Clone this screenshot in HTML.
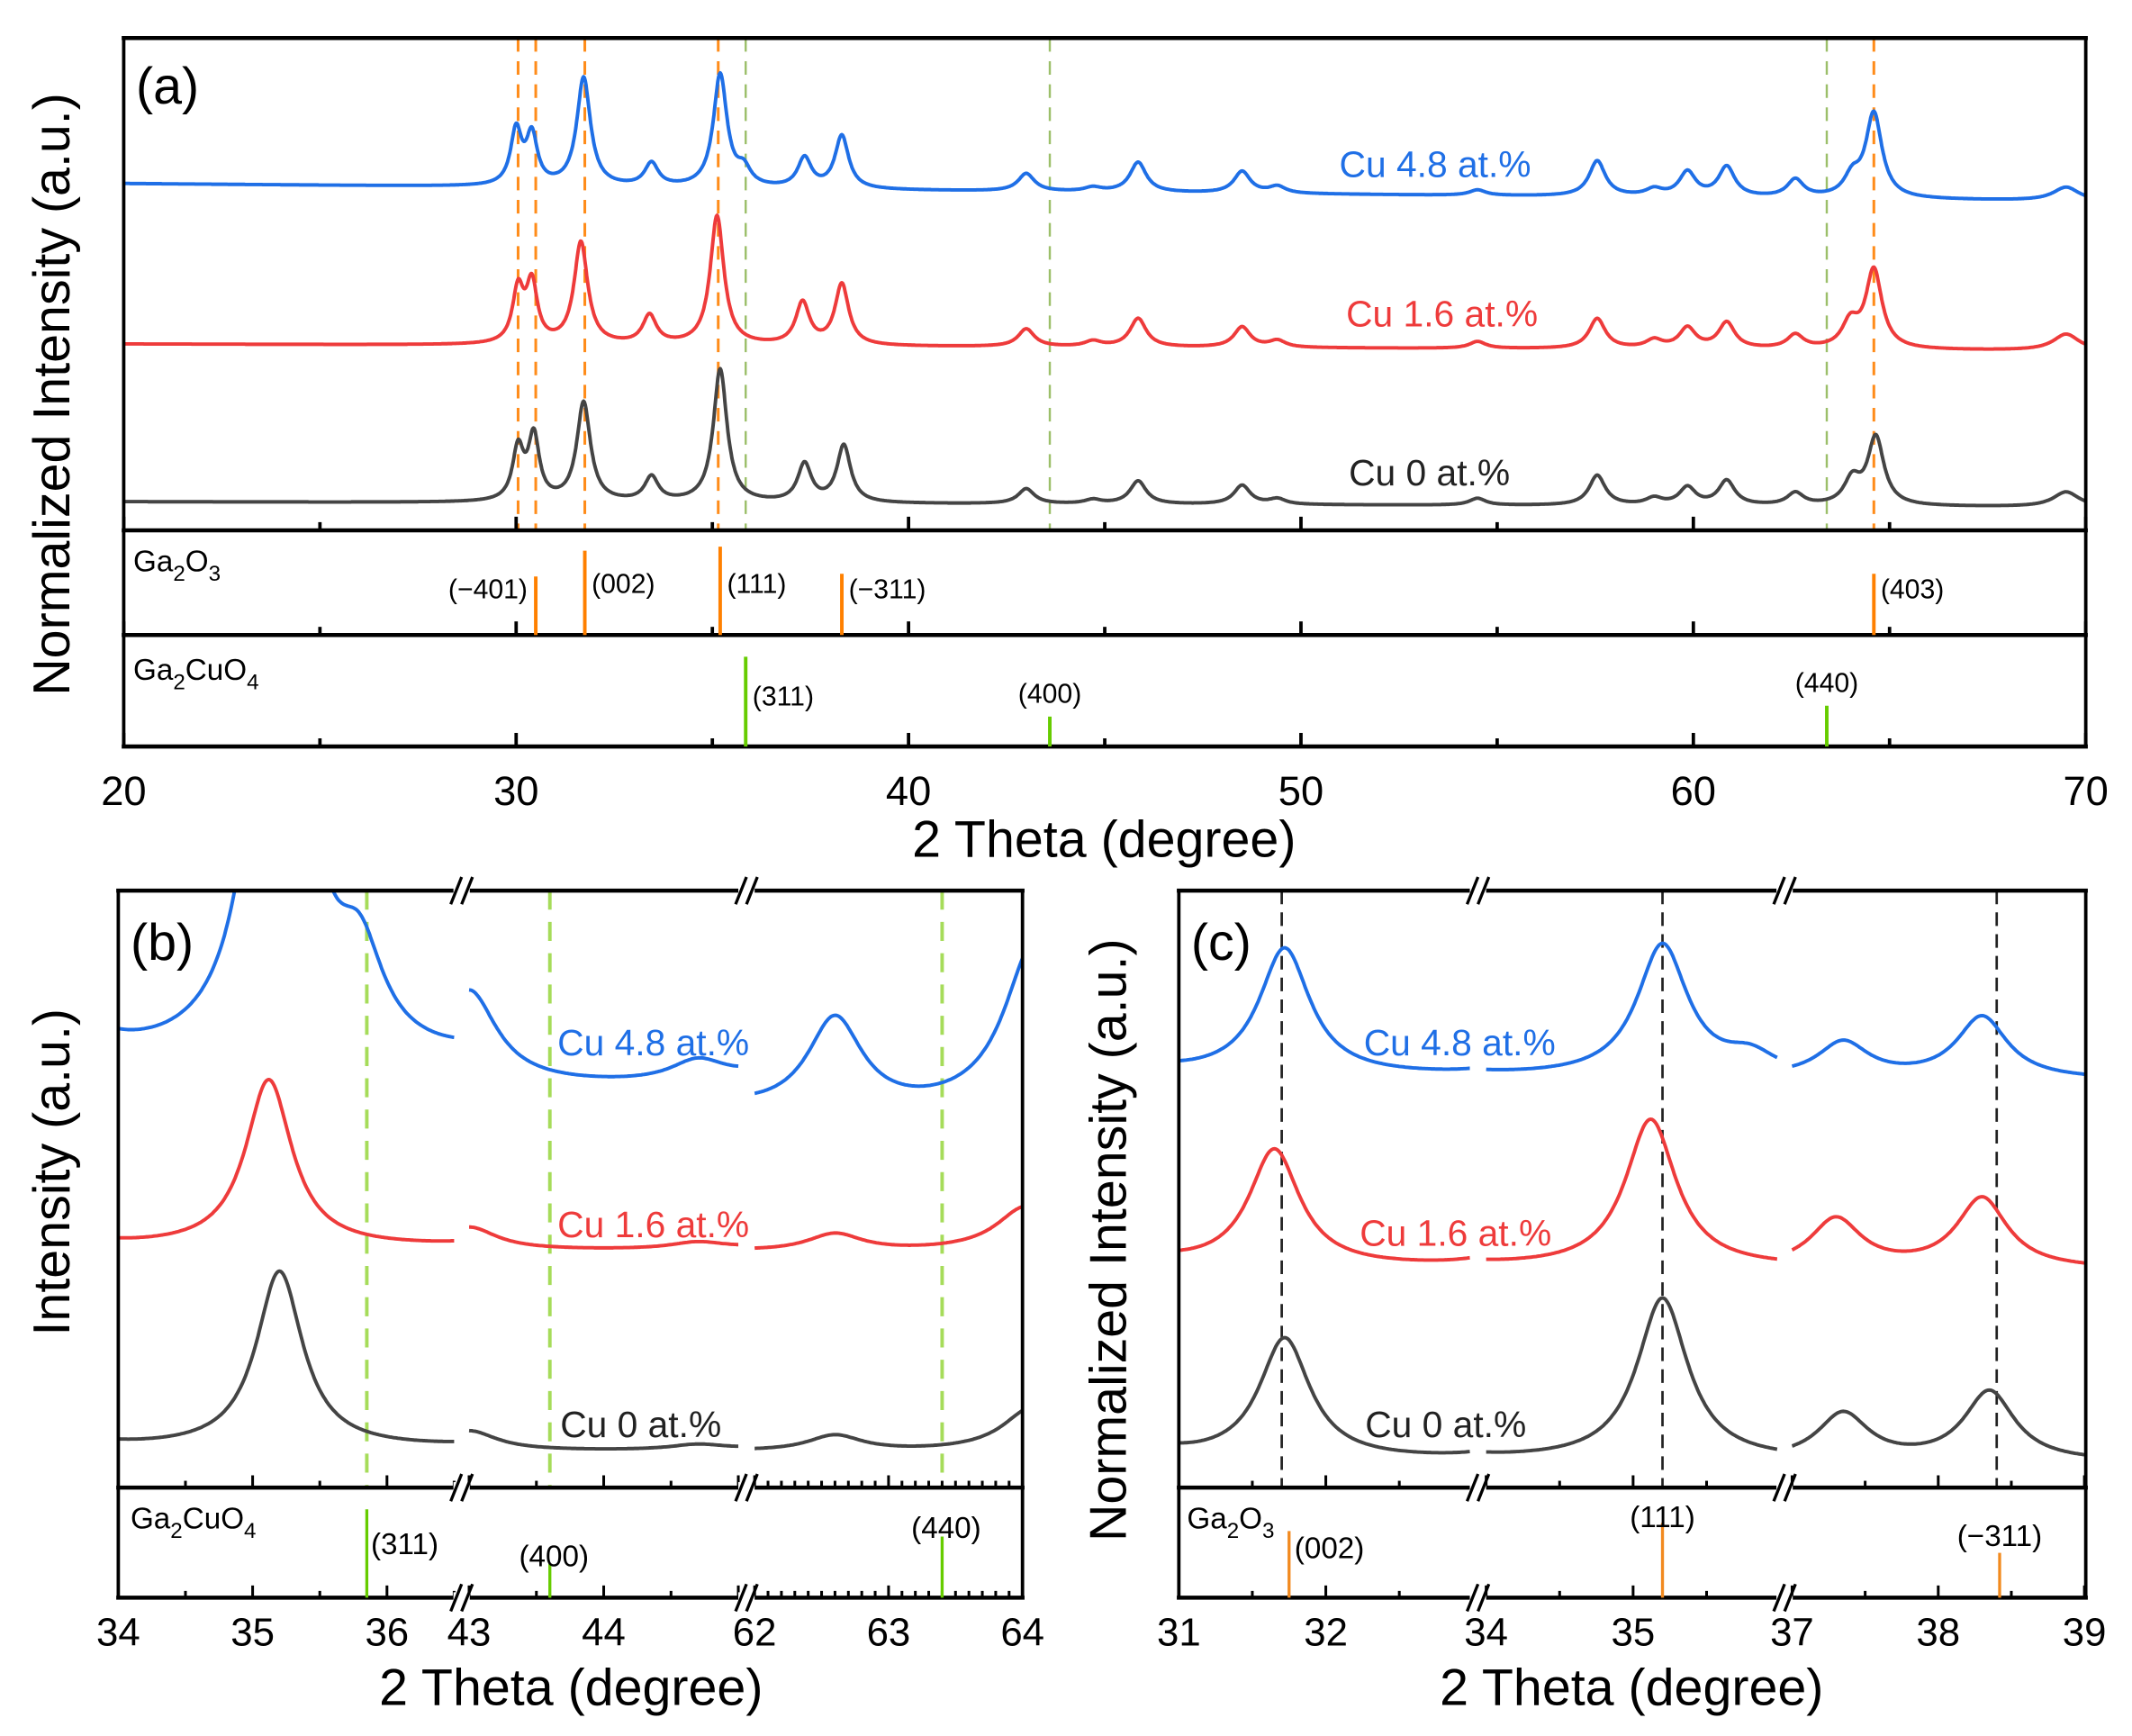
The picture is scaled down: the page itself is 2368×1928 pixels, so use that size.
<!DOCTYPE html>
<html><head><meta charset="utf-8"><style>
html,body{margin:0;padding:0;background:#fff}
svg{display:block}
text{font-family:"Liberation Sans",Arial,sans-serif}
</style></head><body>
<svg id="fig" width="2368" height="1928" viewBox="0 0 1568 1276.7" preserveAspectRatio="none" xmlns="http://www.w3.org/2000/svg">
<defs>
<clipPath id="clipA"><rect x="91" y="28" width="1443" height="362"/></clipPath>
<clipPath id="clipB"><rect x="87" y="655" width="665" height="439"/></clipPath>
<clipPath id="clipC"><rect x="867" y="655" width="667" height="439"/></clipPath>
</defs>
<g id="root"></g>
</svg>
<script>
// ===== data =====
// peak positions (2θ), heights (a.u.), half widths for each sample
const blackPos=[30.05,30.45,31.72,33.45,35.2,37.35,38.35,43.0,44.7,45.85,48.5,49.4,54.5,57.55,59.0,59.85,60.85,62.6,64.05,64.65,69.5];
const blackHt =[38,47,73,18,98,28,42,11,3,17,14,4,5,22,5,13,18,9,18,50,11];
const redPos  =[30.05,30.4,31.65,33.4,35.12,37.3,38.3,43.0,44.7,45.85,48.5,49.4,54.5,57.55,59.0,59.85,60.85,62.6,64.0,64.6,69.5];
const redHt   =[39,43,75,21,95,31,45,13,4,21,15,5,5,22,6,15,19,10,18,58,12];
const bluePos =[30.0,30.4,31.72,33.45,35.2,35.8,37.35,38.3,43.0,44.7,45.85,48.5,49.4,54.5,57.55,59.0,59.85,60.85,62.6,64.05,64.6,69.5];
const blueHt  =[40,36,80,17,83,12,22,39,13,3,22,16,5,4,26,5,18,22,13,14,62,10];
const peakWidthDefault=0.21;
// background drift per degree
const driftBlack=0.08, driftRed=0.1, driftBlue=0.26;
// reference patterns
const ga2o3Pos=[30.5,31.75,35.2,38.3,64.6];
const ga2o3Ht =[43,62,65,45,45];
const ga2o3Lbl=["(\u2212401)","(002)","(111)","(\u2212311)","(403)"];
const cuPos=[35.85,43.6,63.4];
const cuHt =[66,22,30];
const cuLbl=["(311)","(400)","(440)"];
const xTicksA=[20,30,40,50,60,70];

// ===== helpers =====
const NS="http://www.w3.org/2000/svg";
const root=document.getElementById('root');
function mk(tag,attrs,parent){const e=document.createElementNS(NS,tag);for(const k in attrs)e.setAttribute(k,attrs[k]);(parent||root).appendChild(e);return e;}
function txt(s,x,y,size,fill,anchor,parent){const t=mk('text',{x:x,y:y,'font-size':size,fill:fill||'#000','text-anchor':anchor||'start'},parent);t.textContent=s;return t;}
function wOf(pos){return (pos>42)?0.25:(pos<30.6?0.17:peakWidthDefault);}
function intensity(pos,ht,drift,x){let s=-drift*(x-20);for(let i=0;i<pos.length;i++){const w=(pos[i]>69)?0.4:wOf(pos[i]);const d=(x-pos[i])/w;s+=ht[i]/(1+d*d);}return s;}
const series=[
 {name:'blue',pos:bluePos,ht:blueHt,drift:driftBlue,color:'#1f6fe6'},
 {name:'red',pos:redPos,ht:redHt,drift:driftRed,color:'#ee3b3b'},
 {name:'black',pos:blackPos,ht:blackHt,drift:driftBlack,color:'#444444'}];

// ===== panel a =====
const ax=x=>91+(x-20)*(1534-91)/50;
const yBaseA={blue:135,red:253,black:369};
const gA=mk('g',{'clip-path':'url(#clipA)'});


[30.05,30.5,31.75,35.15,64.6].forEach(p=>{const l=mk('line',{x1:ax(p),x2:ax(p),y1:28,y2:390,stroke:'#ff8c1a','stroke-width':2,'stroke-dasharray':'10,7'},gA);});
[35.85,43.6,63.4].forEach(p=>{const l=mk('line',{x1:ax(p),x2:ax(p),y1:28,y2:390,stroke:'#9cbf6a','stroke-width':1.6,'stroke-dasharray':'10,7'},gA);});
series.forEach(s=>{let d='';for(let x=20;x<=70.001;x+=0.02){const y=yBaseA[s.name]-intensity(s.pos,s.ht,s.drift,x);d+=(d?'L':'M')+ax(x).toFixed(1)+','+y.toFixed(1);}
 const p=mk('path',{d:d,fill:'none',stroke:s.color,'stroke-width':2.6,'stroke-linejoin':'round'},gA);});
[[91,28,1534,28],[91,390,1534,390],[91,467,1534,467],[91,549,1534,549]].forEach(c=>{const l=mk('line',{x1:c[0]-1.5,y1:c[1],x2:c[2]+1.5,y2:c[3],stroke:'#000','stroke-width':3});});
mk('line',{x1:91,y1:28,x2:91,y2:549,stroke:'#000','stroke-width':2.5});
mk('line',{x1:1534,y1:28,x2:1534,y2:549,stroke:'#000','stroke-width':2.5});
[390,467,549].forEach(yb=>{for(let v=20;v<=70;v+=5){const maj=v%10===0;mk('line',{x1:ax(v),x2:ax(v),y1:yb,y2:yb-(maj?10:6),stroke:'#000','stroke-width':2.5});}});
xTicksA.forEach(v=>{const t=txt(String(v),ax(v),592,30,'#000','middle');});
let t=txt('2 Theta (degree)',812,630,38,'#000','middle');
t=txt('(a)',100,76,38,'#000');
t=txt('Normalized Intensity (a.u.)',0,0,38,'#000','middle');t.setAttribute('transform','translate(51,290) rotate(-90)');
t=txt('Cu 4.8 at.%',985,130,27,'#1f6fe6');
t=txt('Cu 1.6 at.%',990,240,27,'#ee3b3b');
t=txt('Cu 0 at.%',992,357,27,'#222');
t=txt('Ga',98,420,22,'#000');t.innerHTML='Ga<tspan font-size="16" dy="7">2</tspan><tspan dy="-7">O</tspan><tspan font-size="16" dy="7">3</tspan>';
ga2o3Pos.forEach((p,i)=>{const l=mk('line',{x1:ax(p),x2:ax(p),y1:467,y2:467-ga2o3Ht[i],stroke:'#ff8000','stroke-width':2.6});
 const left=i===0;const lb=txt(ga2o3Lbl[i],left?ax(p)-6:ax(p)+5,(i===1||i===2)?436:440,20,'#000',left?'end':'start');});
t=txt('Ga',98,500,22,'#000');t.innerHTML='Ga<tspan font-size="16" dy="7">2</tspan><tspan dy="-7">CuO</tspan><tspan font-size="16" dy="7">4</tspan>';
cuPos.forEach((p,i)=>{const l=mk('line',{x1:ax(p),x2:ax(p),y1:549,y2:549-cuHt[i],stroke:'#66cc00','stroke-width':2.6});
 const lb=i===0?txt(cuLbl[i],ax(p)+5,519,20,'#000','start'):txt(cuLbl[i],ax(p),549-cuHt[i]-10,20,'#000','middle');});

// ===== broken-axis panels =====
const segsB=[{x0:34,x1:36.5,p0:87,p1:334},{x0:43,x1:45,p0:345,p1:543},{x0:62,x1:64,p0:555,p1:752}];
const segsC=[{x0:31,x1:32.98,p0:867,p1:1081},{x0:34,x1:35.98,p0:1093,p1:1307},{x0:37,x1:39,p0:1318,p1:1533}];
const scaleB={blue:5.3,red:1.3,black:1.33}, y0B={blue:768,red:917,black:1065};
const scaleC={blue:1.17,red:1.15,black:1.22}, y0C={blue:789,red:932,black:1074};
function brkPanel(id,segs,scale,y0,clip,L,R,ticksLbl,minorStep,dashPos,dashColor,stickPos,stickHt,stickCol,stickLbl,lblPos,refName){
 const bx=(x,s)=>s.p0+(x-s.x0)*(s.p1-s.p0)/(s.x1-s.x0);
 const segOf=x=>segs.find(s=>x>=s.x0-1e-6&&x<=s.x1+1e-6);
 const g=mk('g',{'clip-path':'url('+clip+')'});
 
 
 dashPos.forEach(p=>{const s=segOf(p);const l=mk('line',{x1:bx(p,s),x2:bx(p,s),y1:655,y2:1094,stroke:dashColor,'stroke-width':id==='b'?2.6:1.8,'stroke-dasharray':id==='b'?'14,9':'10,6'},g);});
 series.forEach(sr=>{segs.forEach(s=>{let d='';for(let x=s.x0;x<=s.x1+1e-6;x+=0.01){const y=y0[sr.name]-scale[sr.name]*intensity(sr.pos,sr.ht,sr.drift,x);d+=(d?'L':'M')+bx(x,s).toFixed(1)+','+y.toFixed(1);}
  const p=mk('path',{d:d,fill:'none',stroke:sr.color,'stroke-width':2.6,'stroke-linejoin':'round'},g);});});
 [655,1094,1175].forEach(y=>{const l=mk('line',{x1:L-1.5,x2:R+1.5,y1:y,y2:y,stroke:'#000','stroke-width':3});});
 mk('line',{x1:L,x2:L,y1:655,y2:1175,stroke:'#000','stroke-width':2.5});
 mk('line',{x1:R,x2:R,y1:655,y2:1175,stroke:'#000','stroke-width':2.5});
 segs.forEach((s,si)=>{const st=minorStep[si];for(let v=Math.ceil(s.x0/st-1e-6)*st;v<=s.x1+1e-6;v+=st){const maj=Math.abs(v-Math.round(v))<1e-6;[1094,1175].forEach(yb=>mk('line',{x1:bx(v,s),x2:bx(v,s),y1:yb,y2:yb-(maj?9:5),stroke:'#000','stroke-width':2}));}});
 for(let i=0;i<segs.length-1;i++){const xm=(segs[i].p1+segs[i+1].p0)/2;[655,1094,1175].forEach(y=>{mk('rect',{x:xm-6,y:y-4,width:12,height:8,fill:'#fff'});[-4,4].forEach(o=>{const l=mk('line',{x1:xm+o-4,y1:y+10,x2:xm+o+4,y2:y-10,stroke:'#000','stroke-width':2.2});});});}
 ticksLbl.forEach(v=>{const s=segOf(v);const tl=txt(String(v),bx(v,s),1210,29,'#000','middle');});
 stickPos.forEach((p,i)=>{const s=segOf(p);const x=bx(p,s);const l=mk('line',{x1:x,x2:x,y1:1175,y2:1175-stickHt[i],stroke:stickCol,'stroke-width':2.2});
  const lp=lblPos[i];const lb=txt(stickLbl[i],x+lp[0],lp[1],22,'#000',lp[2]);});
}
brkPanel('b',segsB,scaleB,y0B,'#clipB',87,752,[34,35,36,43,44,62,63,64],[0.5,0.5,0.1],[35.85,43.6,63.4],'#a6dc5a',cuPos,[65,25,45],'#66cc00',cuLbl,[[3,1143,'start'],[3,1152,'middle'],[3,1131,'middle']],'ga2cuo4');
brkPanel('c',segsC,scaleC,y0C,'#clipC',867,1534,[31,32,34,35,37,38,39],[0.5,0.5,0.5],[31.7,35.2,38.4],'#222',[31.75,35.2,38.42],[49,55,33],'#f28a1f',["(002)","(111)","(\u2212311)"],[[4,1146,'start'],[0,1123,'middle'],[0,1137,'middle']],'ga2o3');

t=txt('(b)',96,706,38,'#000');
t=txt('(c)',876,706,38,'#000');
t=txt('2 Theta (degree)',420,1254,38,'#000','middle');
t=txt('2 Theta (degree)',1200,1254,38,'#000','middle');
t=txt('Intensity (a.u.)',0,0,38,'#000','middle');t.setAttribute('transform','translate(51,862) rotate(-90)');
t=txt('Normalized Intensity (a.u.)',0,0,38,'#000','middle');t.setAttribute('transform','translate(828,912) rotate(-90)');
t=txt('Ga',96,1124,22,'#000');t.innerHTML='Ga<tspan font-size="16" dy="7">2</tspan><tspan dy="-7">CuO</tspan><tspan font-size="16" dy="7">4</tspan>';
t=txt('Ga',873,1124,22,'#000');t.innerHTML='Ga<tspan font-size="16" dy="7">2</tspan><tspan dy="-7">O</tspan><tspan font-size="16" dy="7">3</tspan>';
[['Cu 4.8 at.%',410,776,'#1f6fe6','legend-cu48-b'],['Cu 1.6 at.%',410,910,'#ee3b3b','legend-cu16-b'],['Cu 0 at.%',412,1057,'#222','legend-cu0-b'],
 ['Cu 4.8 at.%',1003,776,'#1f6fe6','legend-cu48-c'],['Cu 1.6 at.%',1000,916,'#ee3b3b','legend-cu16-c'],['Cu 0 at.%',1004,1057,'#222','legend-cu0-c']].forEach(a=>{const e=txt(a[0],a[1],a[2],27,a[3]);});
</script>
</body></html>
